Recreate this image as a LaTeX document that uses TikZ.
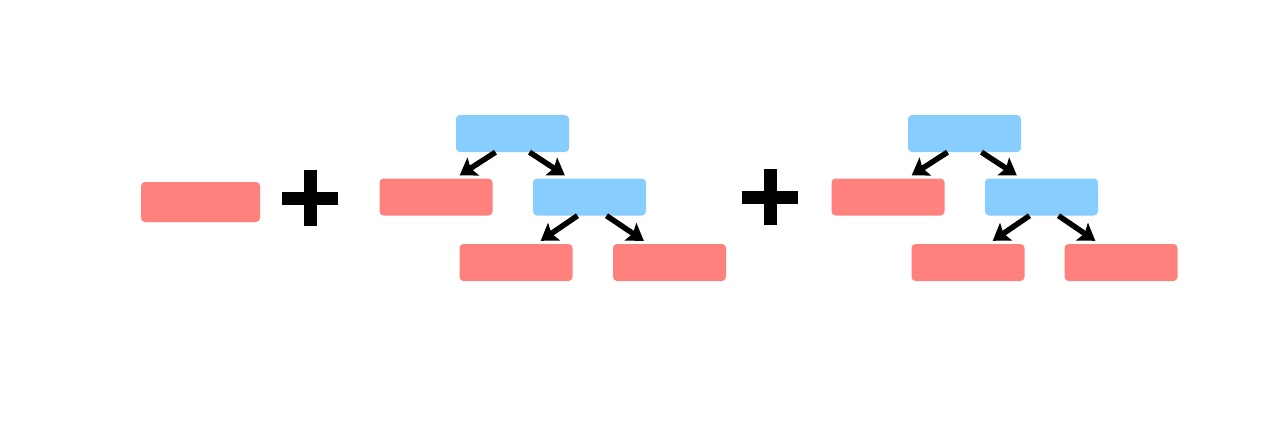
\documentclass[tikz,border=0pt]{standalone}
\usetikzlibrary{arrows.meta}
\definecolor{leafred}{HTML}{FF817D}
\definecolor{nodeblue}{HTML}{87CDFE}
\tikzset{
  leaf/.style={fill=leafred, rounded corners=4pt, minimum width=113pt, minimum height=37pt, inner sep=0pt, draw=none},
  split/.style={fill=nodeblue, rounded corners=4pt, minimum width=113pt, minimum height=37pt, inner sep=0pt, draw=none},
  arr/.style={line width=5.5pt, -{Stealth[length=16pt,width=21pt,inset=3pt]}},
  plusbar/.style={line width=13pt}
}
\begin{document}
\begin{tikzpicture}[x=1pt,y=-1pt]
\useasboundingbox[fill=white] (0,0) rectangle (1280,423);
% single leaf
\node[leaf, minimum width=119pt, minimum height=40pt] (r0) at (200.5,202) {};
% plus 1
\node[inner sep=0pt, minimum size=56pt] (p1) at (310,198) {};
\draw[plusbar] (p1.west) -- (p1.east);
\draw[plusbar] (p1.north) -- (p1.south);
% tree 1
\node[split] (a1) at (512.5,133.5) {};
\node[leaf] (a1l) at (436,197) {};
\node[split] (a1r) at (589.5,197) {};
\node[leaf] (a1rl) at (516,262.5) {};
\node[leaf] (a1rr) at (669.5,262.5) {};
\draw[arr] ([xshift=-17pt]a1.south) -- ([xshift=-33pt,yshift=3pt]a1l.north east);
\draw[arr] ([xshift=17pt]a1.south) -- ([xshift=32pt,yshift=3pt]a1r.north west);
\draw[arr] ([xshift=-12pt]a1r.south) -- ([xshift=-32pt,yshift=3pt]a1rl.north east);
\draw[arr] ([xshift=17pt]a1r.south) -- ([xshift=31pt,yshift=3pt]a1rr.north west);
% plus 2
\node[inner sep=0pt, minimum size=56pt] (p2) at (770,197) {};
\draw[plusbar] (p2.west) -- (p2.east);
\draw[plusbar] (p2.north) -- (p2.south);
% tree 2
\node[split] (b1) at (964.5,133.5) {};
\node[leaf] (b1l) at (888,197) {};
\node[split] (b1r) at (1041.5,197) {};
\node[leaf] (b1rl) at (968,262.5) {};
\node[leaf] (b1rr) at (1121,262.5) {};
\draw[arr] ([xshift=-17pt]b1.south) -- ([xshift=-33pt,yshift=3pt]b1l.north east);
\draw[arr] ([xshift=17pt]b1.south) -- ([xshift=32pt,yshift=3pt]b1r.north west);
\draw[arr] ([xshift=-12pt]b1r.south) -- ([xshift=-32pt,yshift=3pt]b1rl.north east);
\draw[arr] ([xshift=17pt]b1r.south) -- ([xshift=31pt,yshift=3pt]b1rr.north west);
\end{tikzpicture}
\end{document}
